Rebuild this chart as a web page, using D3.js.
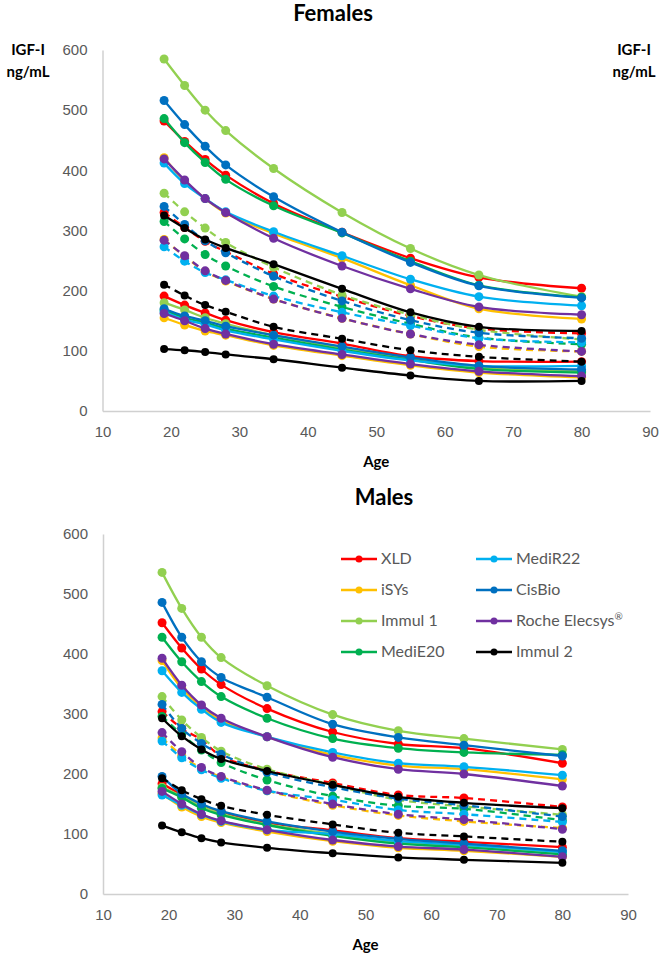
<!DOCTYPE html>
<html>
<head>
<meta charset="utf-8">
<script src="https://cdn.jsdelivr.net/npm/d3@7"></script>
<style>
  body { margin: 0; background: #fff; }
  svg { display: block; font-family: Lato, "Open Sans", sans-serif; }
</style>
</head>
<body>
<svg id="chart" width="661" height="956"></svg>
<script>
const ages = [19, 22, 25, 28, 35, 45, 55, 65, 80];
const assays = ["XLD", "iSYs", "Immul 1", "MediE20", "MediR22", "CisBio", "Roche Elecsys®", "Immul 2"];
const colors = ["#ff0000", "#ffc000", "#92d050", "#00b050", "#00b0f0", "#0070c0", "#7030a0", "#000000"];
const xTicks = [10, 20, 30, 40, 50, 60, 70, 80, 90];
const yTicks = [0, 100, 200, 300, 400, 500, 600];

// rows follow the assays order
const femalesUpper = [
  [482, 448, 418, 392, 345, 297, 254, 222, 204],
  [421, 382, 353, 329, 295, 254, 209, 170, 153],
  [585, 541, 500, 466, 403, 330, 270, 226, 190],
  [486, 446, 413, 385, 341, 296, 249, 209, 189],
  [412, 378, 353, 331, 298, 258, 219, 190, 175],
  [516, 476, 440, 409, 356, 297, 247, 208, 188],
  [419, 384, 353, 330, 287, 241, 203, 173, 160],
  [325, 304, 285, 271, 244, 203, 164, 140, 133]
];
const femalesMedian = [
  [330, 305, 282, 265, 228, 190, 158, 137, 129],
  [285, 257, 232, 216, 186, 154, 128, 107, 99],
  [362, 331, 304, 280, 239, 193, 160, 135, 119],
  [315, 286, 260, 241, 207, 173, 145, 122, 111],
  [273, 249, 230, 218, 191, 164, 142, 121, 114],
  [340, 310, 283, 263, 224, 183, 151, 130, 121],
  [284, 258, 233, 217, 186, 154, 128, 110, 99],
  [210, 192, 176, 165, 140, 120, 101, 90, 82]
];
const femalesLower = [
  [191, 176, 163, 151, 131, 112, 91, 83, 82],
  [155, 143, 133, 126, 109, 92, 76, 64, 56],
  [180, 168, 155, 145, 126, 105, 87, 72, 66],
  [168, 155, 147, 137, 122, 102, 85, 70, 64],
  [165, 152, 144, 134, 119, 100, 84, 75, 75],
  [170, 158, 150, 141, 126, 107, 89, 75, 69],
  [162, 150, 137, 128, 111, 94, 78, 66, 58],
  [103, 101, 98, 94, 86, 72, 59, 50, 50]
];
const malesUpper = [
  [452, 410, 375, 349, 309, 270, 250, 243, 218],
  [389, 343, 312, 289, 262, 232, 214, 208, 191],
  [536, 476, 428, 394, 347, 299, 272, 259, 241],
  [428, 387, 354, 329, 293, 259, 243, 236, 232],
  [372, 336, 308, 286, 262, 236, 218, 212, 198],
  [486, 428, 387, 361, 328, 283, 261, 248, 230],
  [393, 348, 315, 293, 262, 228, 208, 200, 180],
  [293, 263, 241, 225, 205, 182, 162, 152, 143]
];
const malesMedian = [
  [304, 276, 257, 230, 206, 185, 165, 160, 145],
  [260, 231, 209, 195, 172, 148, 131, 121, 110],
  [329, 290, 261, 238, 208, 182, 157, 146, 132],
  [296, 266, 240, 219, 190, 163, 147, 142, 123],
  [255, 227, 207, 193, 172, 157, 140, 133, 120],
  [316, 276, 251, 233, 203, 178, 159, 148, 129],
  [269, 237, 211, 196, 173, 150, 133, 124, 108],
  [193, 173, 158, 147, 132, 116, 102, 96, 87]
];
const malesLower = [
  [184, 165, 148, 137, 119, 106, 93, 87, 78],
  [167, 145, 129, 119, 104, 88, 77, 72, 62],
  [178, 163, 146, 134, 116, 100, 86, 80, 68],
  [176, 161, 143, 132, 115, 97, 84, 78, 66],
  [165, 148, 132, 121, 107, 100, 88, 82, 70],
  [196, 167, 150, 138, 121, 104, 92, 84, 72],
  [171, 150, 133, 122, 107, 90, 79, 74, 62],
  [114, 103, 93, 86, 77, 68, 61, 57, 52]
];

const svg = d3.select("#chart");

const drawPanel = (opts) => {
  const x = d3.scaleLinear().domain([10, 90]).range(opts.xRange);
  const y = d3.scaleLinear().domain([0, 600]).range(opts.yRange);
  const g = svg.append("g");

  // axes: plain grey lines, no ticks
  const yAxis = g.append("g")
    .attr("transform", `translate(${opts.xRange[0]},0)`)
    .call(d3.axisLeft(y).tickValues(yTicks).tickSize(0).tickPadding(15));
  const xAxis = g.append("g")
    .attr("transform", `translate(0,${opts.yRange[0]})`)
    .call(d3.axisBottom(x).tickValues(xTicks).tickSize(0).tickPadding(15));
  [yAxis, xAxis].forEach(a => {
    a.select(".domain").attr("stroke", "#d0d0d0").attr("stroke-width", 1.5);
    a.selectAll("text").attr("fill", "#595959").style("font-size", "15px");
  });

  g.append("text")
    .attr("x", opts.titleX).attr("y", opts.yRange[1] - 29)
    .attr("text-anchor", "middle")
    .style("font-size", "22px").style("font-weight", "bold")
    .text(opts.title);

  g.append("text")
    .attr("x", (opts.xRange[0] + opts.xRange[1]) / 2).attr("y", opts.yRange[0] + 56)
    .attr("text-anchor", "middle")
    .style("font-size", "15px").style("font-weight", "bold")
    .text("Age");

  const line = d3.line()
    .x((d, i) => x(ages[i]))
    .y(d => y(d))
    .curve(d3.curveCatmullRom.alpha(0.5));

  const groups = [
    {data: opts.lower, dash: null},
    {data: opts.median, dash: "7,5"},
    {data: opts.upper, dash: null}
  ];

  assays.forEach((name, k) => {
    groups.forEach(grp => {
      const vals = grp.data[k];
      g.append("path")
        .attr("d", line(vals))
        .attr("fill", "none")
        .attr("stroke", colors[k])
        .attr("stroke-width", 2.3)
        .attr("stroke-dasharray", grp.dash);
      g.selectAll(null)
        .data(vals)
        .enter().append("circle")
        .attr("cx", (d, i) => x(ages[i]))
        .attr("cy", d => y(d))
        .attr("r", k === 7 ? 4 : 4.5)
        .attr("fill", colors[k]);
    });
  });
};

drawPanel({
  title: "Females", titleX: 333,
  xRange: [102.5, 650], yRange: [411, 50],
  upper: femalesUpper, median: femalesMedian, lower: femalesLower
});

drawPanel({
  title: "Males", titleX: 384,
  xRange: [103, 628], yRange: [894, 534],
  upper: malesUpper, median: malesMedian, lower: malesLower
});

// y axis unit labels on the Females panel
[28, 634].forEach(cx => {
  const t = svg.append("text")
    .attr("x", cx).attr("y", 55)
    .attr("text-anchor", "middle")
    .style("font-size", "15px").style("font-weight", "bold");
  t.append("tspan").attr("x", cx).text("IGF-I");
  t.append("tspan").attr("x", cx).attr("dy", 22).text("ng/mL");
});

// legend, two columns of four
const legend = svg.append("g");
assays.forEach((name, k) => {
  const col = Math.floor(k / 4), row = k % 4;
  const lx = col === 0 ? 341 : 476;
  const ly = 559 + row * 31;
  legend.append("line")
    .attr("x1", lx).attr("x2", lx + 36)
    .attr("y1", ly).attr("y2", ly)
    .attr("stroke", colors[k]).attr("stroke-width", 2.3);
  legend.append("circle")
    .attr("cx", lx + 18).attr("cy", ly).attr("r", 3.5)
    .attr("fill", colors[k]);
  const t = legend.append("text")
    .attr("x", lx + 40).attr("y", ly + 5)
    .attr("fill", "#595959")
    .style("font-size", "16px");
  if (name.endsWith("®")) {
    t.append("tspan").text(name.slice(0, -1));
    t.append("tspan").attr("dy", -6).style("font-size", "10px").text("®");
  } else {
    t.text(name);
  }
});
</script>
</body>
</html>
